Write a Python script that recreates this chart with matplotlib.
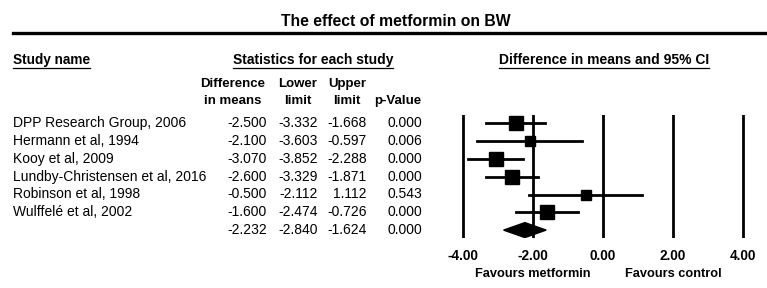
import matplotlib.pyplot as plt
from matplotlib.lines import Line2D
from matplotlib.patches import Polygon

plt.rcParams['font.family'] = ['Liberation Sans', 'DejaVu Sans']

# Datos del forest plot
estudios = ['DPP Research Group, 2006', 'Hermann et al, 1994', 'Kooy et al, 2009',
            'Lundby-Christensen et al, 2016', 'Robinson et al, 1998', 'Wulffelé et al, 2002']
diferencia = [-2.500, -2.100, -3.070, -2.600, -0.500, -1.600]
inferior = [-3.332, -3.603, -3.852, -3.329, -2.112, -2.474]
superior = [-1.668, -0.597, -2.288, -1.871, 1.112, -0.726]
p_valor = [0.000, 0.006, 0.000, 0.000, 0.543, 0.000]
peso = [19, 12, 20, 22, 11, 18]  # peso relativo (%) estimado del tamaño de los cuadros

# Efecto combinado
resumen = [-2.232, -2.840, -1.624, 0.000]

ticks_x = [-4, -2, 0, 2, 4]

W, H = 767, 288
fig = plt.figure(figsize=(W / 100, H / 100), dpi=100)


def px(x, y):
    # pixeles -> fraccion de figura
    return x / W, 1 - y / H


def texto(x, y, s, **kw):
    fx, fy = px(x, y)
    return fig.text(fx, fy, s, va='center', **kw)


# Titulo y linea gruesa
texto(396, 22, 'The effect of metformin on BW', ha='center', fontsize=11.3, fontweight='bold')
fig.add_artist(Line2D([13 / W, 1], [1 - 33 / H] * 2, color='black', lw=2.4))

# Encabezados subrayados
encabezados = [texto(13, 60, 'Study name', ha='left', fontsize=9.8, fontweight='bold'),
               texto(313, 60, 'Statistics for each study', ha='center', fontsize=10, fontweight='bold'),
               texto(604, 60, 'Difference in means and 95% CI', ha='center', fontsize=10, fontweight='bold')]
fig.canvas.draw()
r = fig.canvas.get_renderer()
for t in encabezados:
    bb = t.get_window_extent(r)
    fig.add_artist(Line2D([bb.x0 / W, bb.x1 / W], [1 - 68 / H] * 2, color='black', lw=0.9))

# Encabezados de columna
cols = [(233, 'Difference', 'in means'), (298, 'Lower', 'limit'),
        (347, 'Upper', 'limit'), (398, '', 'p-Value')]
for x, l1, l2 in cols:
    texto(x, 84, l1, ha='center', fontsize=9.5, fontweight='bold')
    texto(x, 101, l2, ha='center', fontsize=9.5, fontweight='bold')

# Filas de la tabla
y0, dy = 123.3, 17.8
for i in range(len(estudios)):
    y = y0 + i * dy
    texto(13, y, estudios[i], ha='left', fontsize=10)
    texto(267, y, f'{diferencia[i]:.3f}', ha='right', fontsize=10)
    texto(318, y, f'{inferior[i]:.3f}', ha='right', fontsize=10)
    texto(367, y, f'{superior[i]:.3f}', ha='right', fontsize=10)
    texto(422, y, f'{p_valor[i]:.3f}', ha='right', fontsize=10)
y = y0 + len(estudios) * dy
for x, v in zip([267, 318, 367, 422], resumen):
    texto(x, y, f'{v:.3f}', ha='right', fontsize=10)

# Eje del forest plot: 35 px por unidad, 0 en x=603
escala = 35
xmin, xmax = -4.3, 4.3
izq = 603 + xmin * escala
der = 603 + xmax * escala
top, bot = 115, 238
ax = fig.add_axes([izq / W, 1 - bot / H, (der - izq) / W, (bot - top) / H])
ax.set_xlim(xmin, xmax)
ax.set_ylim((bot - y0) / dy, (top - y0) / dy)
for s in ax.spines.values():
    s.set_visible(False)
ax.set_yticks([])
ax.set_xticks(ticks_x)
ax.set_xticklabels([f'{t:.2f}' for t in ticks_x], fontweight='bold', fontsize=9.8)
ax.tick_params(axis='x', length=0, pad=8)
for t in ticks_x:
    ax.axvline(t, color='black', lw=2)

for i in range(len(estudios)):
    ax.plot([inferior[i], superior[i]], [i, i], color='black', lw=2)
    lado = 3.1 * peso[i] ** 0.5 * 0.72
    ax.plot(diferencia[i], i, marker='s', color='black', markersize=lado)

n = len(estudios)
dh = 7.5 / dy
diamante = Polygon([[resumen[1], n], [resumen[0], n - dh], [resumen[2], n], [resumen[0], n + dh]],
                   closed=True, color='black')
ax.add_patch(diamante)

texto(533, 274, 'Favours metformin', ha='center', fontsize=9.2, fontweight='bold')
texto(673, 274, 'Favours control', ha='center', fontsize=9.2, fontweight='bold')

fig.savefig('out.png', dpi=100)
